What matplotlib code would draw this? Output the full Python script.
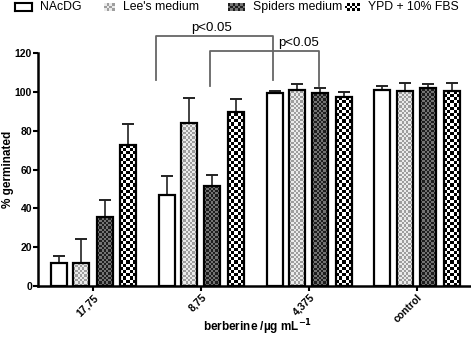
import numpy as np
import matplotlib.pyplot as plt

groups = ["17,75", "8,75", "4,375", "control"]
series = ["NAcDG", "Lee's medium", "Spiders medium", "YPD + 10% FBS"]
means = {
    "NAcDG": [12, 47, 99.3, 101.2],
    "Lee's medium": [12, 84, 101.2, 100.4],
    "Spiders medium": [35.5, 51.5, 99.3, 102.2],
    "YPD + 10% FBS": [72.5, 89.5, 97.3, 100.4],
}
errors = {
    "NAcDG": [3.5, 9.5, 1.0, 1.7],
    "Lee's medium": [12.5, 13, 2.7, 4.5],
    "Spiders medium": [9, 6, 2.6, 1.7],
    "YPD + 10% FBS": [11, 7, 2.5, 4.5],
}
# two grey levels of the checker fill (equal = plain) and cells across a bar
fills = {
    "NAcDG": (1.0, 1.0, 1),
    "Lee's medium": (0.92, 0.62, 7),
    "Spiders medium": (0.12, 0.45, 7),
    "YPD + 10% FBS": (1.0, 0.0, 5),
}

plt.rcParams["font.family"] = "Liberation Sans"

fig = plt.figure(figsize=(4.71, 3.39), dpi=100)
ax = fig.add_axes([0.081, 0.156, 0.919, 0.687])

x = np.arange(len(groups))
offsets = [-0.32, -0.11, 0.105, 0.32]
width = 0.148
px_per_unit = 1.94  # vertical pixels per y unit


def checker(nx, ny, g1, g2):
    grid = np.add.outer(np.arange(ny), np.arange(nx)) % 2
    return np.where(grid == 0, g1, g2)


for name, off in zip(series, offsets):
    g1, g2, ncell = fills[name]
    pos = x + off
    ax.errorbar(pos, means[name], yerr=[np.zeros(len(groups)), errors[name]],
                fmt="none", ecolor="#222222", elinewidth=1.2, capsize=4,
                capthick=1.4, zorder=1)
    bars = ax.bar(pos, means[name], width, color="white", linewidth=0, zorder=2)
    cell_y = (16 / ncell) / px_per_unit
    for bar in bars:
        bx, bh = bar.get_x(), bar.get_height()
        ny = max(1, int(np.ceil(bh / cell_y)))
        im = ax.imshow(checker(ncell, ny, g1, g2), cmap="gray", vmin=0, vmax=1,
                       origin="lower", extent=(bx, bx + width, 0, ny * cell_y),
                       interpolation="nearest", aspect="auto", zorder=2)
        im.set_clip_path(bar)
    ax.bar(pos, means[name], width, fill=False, edgecolor="black",
           linewidth=1.6, zorder=3)

ax.set_xlim(-0.51, 3.5)
ax.set_ylim(0, 120)
ax.set_yticks(range(0, 121, 20))
ax.set_xticks(x)
ax.set_xticklabels(groups, rotation=45, ha="right", rotation_mode="anchor",
                   fontweight="bold", fontsize=7.5)
for lbl in ax.get_yticklabels():
    lbl.set_fontweight("bold")
    lbl.set_fontsize(7.5)
ax.tick_params(width=1.5, length=3.5, pad=1)
for side in ["top", "right"]:
    ax.spines[side].set_visible(False)
for side in ["left", "bottom"]:
    ax.spines[side].set_linewidth(1.8)

ax.set_ylabel("% germinated", fontweight="bold", fontsize=8.5)
ax.yaxis.set_label_coords(-0.056, 0.5)
ax.set_xlabel("berberine /µg mL$^{\\mathbf{-1}}$", fontweight="bold", fontsize=8.5)
ax.xaxis.set_label_coords(0.506, -0.135)

# significance brackets
bc = "#666666"
ax.plot([0.585, 0.585, 1.67, 1.67], [106, 129, 129, 106], color=bc,
        lw=1.3, clip_on=False)
ax.text(1.1, 130, "p<0.05", ha="center", va="bottom", fontsize=9.5)
ax.plot([1.08, 1.08, 2.09, 2.09], [103, 121.3, 121.3, 103], color=bc,
        lw=1.3, clip_on=False)
ax.text(1.9, 122, "p<0.05", ha="center", va="bottom", fontsize=9.5)

# legend along the top, placed entry by entry
leg_x = [15, 104, 228, 345]
leg_w = [17, 11, 17, 15]
for name, lx, lw in zip(series, leg_x, leg_w):
    g1, g2, ncell = fills[name]
    lax = fig.add_axes([lx / 471, 1 - 11 / 339, lw / 471, 8 / 339])
    nx = max(1, round(lw / 2.5)) if ncell > 1 else 1
    ny = max(1, round(8 / 2.5)) if ncell > 1 else 1
    lax.imshow(checker(nx, ny, g1, g2), cmap="gray", vmin=0, vmax=1,
               interpolation="nearest", aspect="auto")
    lax.set_xticks([])
    lax.set_yticks([])
    for sp in lax.spines.values():
        sp.set_visible(ncell == 1)
        sp.set_linewidth(1.5)
    fig.text((lx + lw + 8) / 471, 1 - 7 / 339, name, fontsize=8.8, va="center")

fig.savefig("out.png", dpi=100)
